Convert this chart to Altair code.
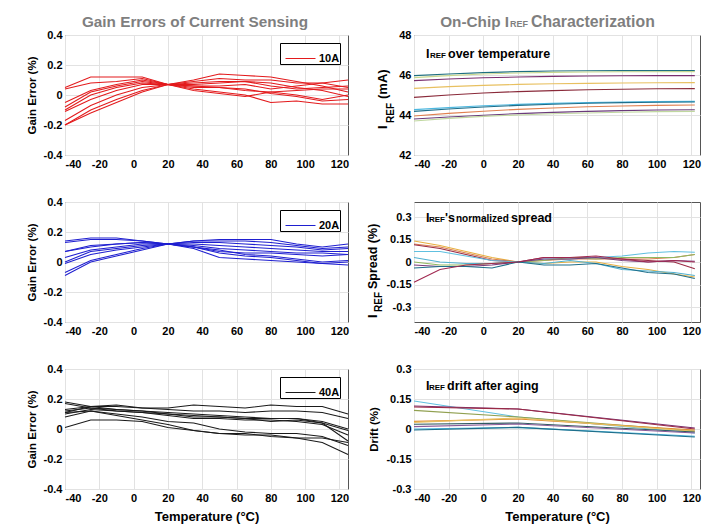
import altair as alt
import pandas as pd

FONT = "Liberation Sans, Arial, sans-serif"

# ---------------- data ----------------
T_GAIN = [-40, -25, -10, 5, 20, 35, 50, 65, 80, 95, 110, 125]

G10 = [
    [0.05, 0.12, 0.12, 0.12, 0.07, 0.06, 0.05, 0.04, 0.01, -0.01, -0.04, -0.03],
    [0.04, 0.08, 0.09, 0.11, 0.07, 0.10, 0.14, 0.13, 0.12, 0.09, 0.06, 0.02],
    [-0.05, 0.03, 0.07, 0.10, 0.07, 0.09, 0.11, 0.10, 0.10, 0.08, 0.08, 0.05],
    [-0.08, 0.02, 0.06, 0.09, 0.07, 0.08, 0.09, 0.09, 0.06, 0.04, 0.05, 0.06],
    [-0.10, 0.00, 0.05, 0.08, 0.07, 0.06, 0.06, 0.07, 0.04, 0.06, 0.08, 0.10],
    [-0.11, -0.03, 0.03, 0.07, 0.07, 0.05, 0.05, 0.03, 0.02, 0.00, -0.03, 0.00],
    [-0.17, -0.07, 0.00, 0.05, 0.07, 0.04, 0.02, 0.00, -0.05, -0.04, -0.06, -0.06],
    [-0.20, -0.10, -0.03, 0.03, 0.07, 0.03, 0.01, -0.01, 0.02, 0.03, 0.04, 0.04],
    [-0.20, -0.12, -0.05, 0.02, 0.07, 0.07, 0.08, 0.09, 0.08, 0.05, 0.03, -0.01],
]

G20 = [
    [0.14, 0.16, 0.16, 0.14, 0.12, 0.10, 0.06, 0.04, 0.03, 0.01, -0.01, 0.00],
    [0.13, 0.15, 0.15, 0.14, 0.12, 0.09, 0.03, 0.02, 0.01, 0.00, -0.01, -0.02],
    [0.07, 0.10, 0.12, 0.13, 0.12, 0.14, 0.15, 0.15, 0.15, 0.12, 0.10, 0.12],
    [0.07, 0.11, 0.12, 0.13, 0.12, 0.14, 0.14, 0.14, 0.13, 0.11, 0.09, 0.10],
    [0.03, 0.08, 0.10, 0.12, 0.12, 0.13, 0.13, 0.12, 0.11, 0.10, 0.08, 0.09],
    [0.00, 0.07, 0.09, 0.11, 0.12, 0.12, 0.11, 0.10, 0.09, 0.08, 0.07, 0.07],
    [-0.01, 0.05, 0.08, 0.10, 0.12, 0.11, 0.09, 0.08, 0.07, 0.06, 0.06, 0.05],
    [-0.07, 0.01, 0.05, 0.09, 0.12, 0.10, 0.08, 0.05, 0.04, 0.02, 0.00, 0.01],
    [-0.09, 0.00, 0.04, 0.08, 0.12, 0.10, 0.07, 0.06, 0.06, 0.05, 0.04, 0.05],
]

G40 = [
    [0.11, 0.15, 0.16, 0.14, 0.14, 0.16, 0.15, 0.14, 0.16, 0.15, 0.15, 0.10],
    [0.13, 0.15, 0.15, 0.14, 0.13, 0.12, 0.12, 0.11, 0.12, 0.12, 0.11, 0.07],
    [0.18, 0.15, 0.13, 0.12, 0.10, 0.08, 0.08, 0.07, 0.07, 0.07, 0.05, 0.00],
    [0.17, 0.14, 0.12, 0.11, 0.09, 0.07, 0.07, 0.06, 0.06, 0.05, 0.03, -0.04],
    [0.10, 0.13, 0.12, 0.11, 0.10, 0.09, 0.08, 0.07, 0.05, 0.06, 0.04, -0.01],
    [0.12, 0.14, 0.13, 0.12, 0.11, 0.10, 0.09, 0.08, 0.07, 0.07, 0.04, -0.08],
    [0.08, 0.12, 0.10, 0.08, 0.05, 0.04, 0.00, -0.02, -0.03, -0.03, -0.05, -0.11],
    [0.11, 0.12, 0.09, 0.06, 0.03, -0.01, -0.03, -0.04, -0.04, -0.06, -0.09, -0.17],
    [0.01, 0.06, 0.06, 0.05, 0.01, -0.01, -0.03, -0.03, -0.05, -0.06, -0.06, -0.09],
]

T_IREF = [-40, -20, 0, 20, 40, 60, 80, 100, 122]
IREF = [
    [45.97, 46.05, 46.12, 46.17, 46.20, 46.21, 46.22, 46.22, 46.22],
    [45.87, 45.97, 46.05, 46.10, 46.13, 46.15, 46.16, 46.16, 46.17],
    [45.72, 45.80, 45.86, 45.90, 45.93, 45.95, 45.96, 45.97, 45.97],
    [45.33, 45.42, 45.48, 45.53, 45.56, 45.58, 45.60, 45.61, 45.62],
    [44.88, 45.00, 45.10, 45.17, 45.22, 45.26, 45.29, 45.31, 45.32],
    [44.27, 44.37, 44.46, 44.53, 44.58, 44.62, 44.65, 44.67, 44.68],
    [44.18, 44.30, 44.40, 44.48, 44.54, 44.59, 44.62, 44.64, 44.65],
    [43.95, 44.08, 44.19, 44.28, 44.35, 44.41, 44.45, 44.48, 44.50],
    [43.80, 43.90, 43.99, 44.07, 44.13, 44.18, 44.22, 44.25, 44.26],
    [43.70, 43.83, 43.93, 44.00, 44.06, 44.10, 44.14, 44.17, 44.18],
]
IREF_COLORS = ["#1f6f80", "#c8d890", "#7a2e6e", "#e8c060", "#8a2a3a",
               "#4db8e0", "#1f6f8b", "#e08050", "#6a3a7a", "#c0d8a0"]

T_SPREAD = [-40, -25, -10, 5, 20, 35, 50, 65, 80, 95, 110, 122]
SPREAD = [
    [0.14, 0.11, 0.07, 0.03, 0.0, -0.01, 0.00, 0.00, -0.03, -0.05, -0.08, -0.10],
    [0.12, 0.10, 0.06, 0.02, 0.0, 0.01, 0.02, 0.02, 0.02, 0.02, 0.03, 0.05],
    [0.115, 0.09, 0.05, 0.01, 0.0, 0.03, 0.03, 0.03, 0.02, 0.01, 0.00, -0.045],
    [0.07, 0.07, 0.04, 0.01, 0.0, 0.02, 0.02, 0.03, 0.04, 0.06, 0.07, 0.065],
    [0.03, 0.00, -0.01, -0.01, 0.0, -0.01, 0.01, -0.01, -0.05, -0.06, -0.07, -0.09],
    [0.00, -0.02, -0.02, -0.01, 0.0, 0.01, 0.03, 0.02, 0.03, 0.03, 0.03, 0.05],
    [-0.02, -0.03, -0.03, -0.02, 0.0, 0.02, 0.02, 0.03, 0.01, 0.00, 0.01, 0.005],
    [-0.04, -0.03, -0.03, -0.04, 0.0, -0.02, -0.02, -0.01, -0.04, -0.07, -0.08, -0.11],
    [-0.135, -0.05, -0.02, -0.01, 0.0, 0.03, 0.03, 0.04, 0.02, 0.00, 0.01, 0.00],
]
SPREAD_COLORS = ["#e8b040", "#d98050", "#9a2a45", "#60c0e0", "#50b0d0",
                 "#90b860", "#7a3a7a", "#1f6f8b", "#a02850"]

T_DRIFT = [-40, 20, 122]
DRIFT = [
    [0.14, 0.06, -0.02],
    [0.115, 0.10, 0.005],
    [0.11, 0.10, 0.0],
    [0.093, 0.06, -0.01],
    [0.038, 0.05, -0.005],
    [0.033, 0.055, -0.012],
    [0.024, 0.03, -0.015],
    [0.012, 0.025, -0.02],
    [0.0, 0.008, -0.036],
    [-0.005, 0.008, -0.04],
]
DRIFT_COLORS = ["#60c0e0", "#7a2e6e", "#9a2a45", "#90a050", "#e08a30",
                "#e8c060", "#305a60", "#8a5a9a", "#4db8e0", "#1f6f8b"]

X_TICKS = [-40, -20, 0, 20, 40, 60, 80, 100, 120]
GAIN_TICKS = [-0.4, -0.2, 0, 0.2, 0.4]
IREF_TICKS = [42, 44, 46, 48]
PCT_TICKS = [-0.3, -0.15, 0, 0.15, 0.3]

LW, RW, H = 283, 286, 120
LBL = "'' + datum.value"


def long_df(xs, series):
    rows = []
    for i, s in enumerate(series):
        for x, v in zip(xs, s):
            rows.append({"t": x, "v": v, "id": f"s{i}"})
    return pd.DataFrame(rows)


def txt(text, x, y, size, color="black", angle=0, align="left", weight="bold"):
    return alt.Chart(pd.DataFrame({"s": [text]})).mark_text(
        align=align, baseline="alphabetic", fontSize=size, fontWeight=weight,
        font=FONT, color=color, angle=angle
    ).encode(text="s:N", x=alt.value(x), y=alt.value(y))


def x_enc(bottom):
    kw = dict(values=X_TICKS, labelExpr=LBL)
    kw["title"] = "Temperature (°C)" if bottom else None
    return alt.X("t:Q", scale=alt.Scale(domain=[-40, 125], nice=False, zero=False),
                 axis=alt.Axis(**kw))


def gain_panel(series, label, color, bottom, extra=()):
    df = long_df(T_GAIN, series)
    df["cur"] = label
    lines = alt.Chart(df).mark_line(strokeWidth=1.1).encode(
        x=x_enc(bottom),
        y=alt.Y("v:Q", scale=alt.Scale(domain=[-0.4, 0.4], nice=False),
                axis=alt.Axis(values=GAIN_TICKS, labelExpr=LBL, title="Gain Error (%)")),
        color=alt.Color("cur:N", scale=alt.Scale(domain=[label], range=[color]),
                        legend=alt.Legend(title=None, orient="top-right", offset=8,
                                          padding=0, strokeColor="black", fillColor="white",
                                          cornerRadius=0, symbolType="stroke", symbolSize=900,
                                          symbolStrokeWidth=1, symbolOffset=5,
                                          labelFont=FONT, labelFontSize=11,
                                          labelFontWeight="bold", labelColor="black",
                                          labelOffset=3)),
        detail="id:N",
    )
    return alt.layer(lines, *extra).properties(width=LW, height=H)


def right_panel(xs, series, colors, domain, ticks, bottom, ytitle, extra=()):
    df = long_df(xs, series)
    ids = [f"s{i}" for i in range(len(series))]
    ykw = dict(values=ticks, labelExpr=LBL)
    ykw["title"] = ytitle
    lines = alt.Chart(df).mark_line(strokeWidth=1.1).encode(
        x=x_enc(bottom),
        y=alt.Y("v:Q", scale=alt.Scale(domain=domain, nice=False, zero=False),
                axis=alt.Axis(**ykw)),
        color=alt.Color("id:N", scale=alt.Scale(domain=ids, range=colors), legend=None),
        detail="id:N",
    )
    return alt.layer(lines, *extra).properties(width=RW, height=H)


GRAY = "#7f7f7f"

p1 = gain_panel(G10, "10A", "#e31a1c", False,
                [txt("Gain Errors of Current Sensing", 130, -8, 15.3, GRAY, align="center")])
p2 = right_panel(T_IREF, IREF, IREF_COLORS, [42, 48], IREF_TICKS, False, None, [
    txt("On-Chip I", 95, -8, 15.3, GRAY, align="right"),
    txt("REF", 96, -8, 9, GRAY),
    txt("Characterization", 117, -8, 15.8, GRAY),
    txt("I", 12, 23, 12.5), txt("REF", 16, 23, 8), txt("over temperature", 34, 23, 12.5),
    txt("I", -27, 94, 13, angle=270), txt("REF", -20, 88, 10, angle=270),
    txt("(mA)", -27, 64, 13, angle=270),
])
p3 = gain_panel(G20, "20A", "#1f1fd0", False)
p4 = right_panel(T_SPREAD, SPREAD, SPREAD_COLORS, [-0.4, 0.4], PCT_TICKS, False, None, [
    txt("I", 12, 20, 12.5), txt("REF", 15, 20, 8), txt("'s", 31, 20, 12.5),
    txt("normalized", 42, 20, 10), txt("spread", 97, 20, 12.5),
    txt("I", -37, 116, 13, angle=270), txt("REF", -32, 110, 10, angle=270),
    txt("Spread (%)", -37, 87, 12.5, angle=270),
])
p5 = gain_panel(G40, "40A", "#1a1a1a", True)
p6 = right_panel(T_DRIFT, DRIFT, DRIFT_COLORS, [-0.3, 0.3], PCT_TICKS, True, "Drift (%)", [
    txt("I", 12, 21, 12.5), txt("REF", 15, 21, 8), txt("drift after aging", 33, 21, 12.5),
])

chart = alt.concat(
    p1, p2, p3, p4, p5, p6, columns=2, bounds="flush", align="each",
    spacing={"row": 47, "column": 66},
).resolve_scale(
    x="independent", y="independent", color="independent"
).properties(
    padding={"left": 17, "top": 5, "right": 5, "bottom": 5},
    background="white",
).configure_axis(
    labelFont=FONT, labelFontSize=11, labelFontWeight="bold", labelColor="black",
    titleFont=FONT, titleFontSize=11.5, titleFontWeight="bold", titleColor="black",
    grid=True, gridColor="#e2e2e2", ticks=False, domain=False, labelPadding=3,
).configure_axisX(titlePadding=7, titleFontSize=13).configure_axisY(titlePadding=6).configure_view(
    stroke="#555555", strokeWidth=1
)

chart.save("out.html", embed_options={"renderer": "svg", "actions": False})
